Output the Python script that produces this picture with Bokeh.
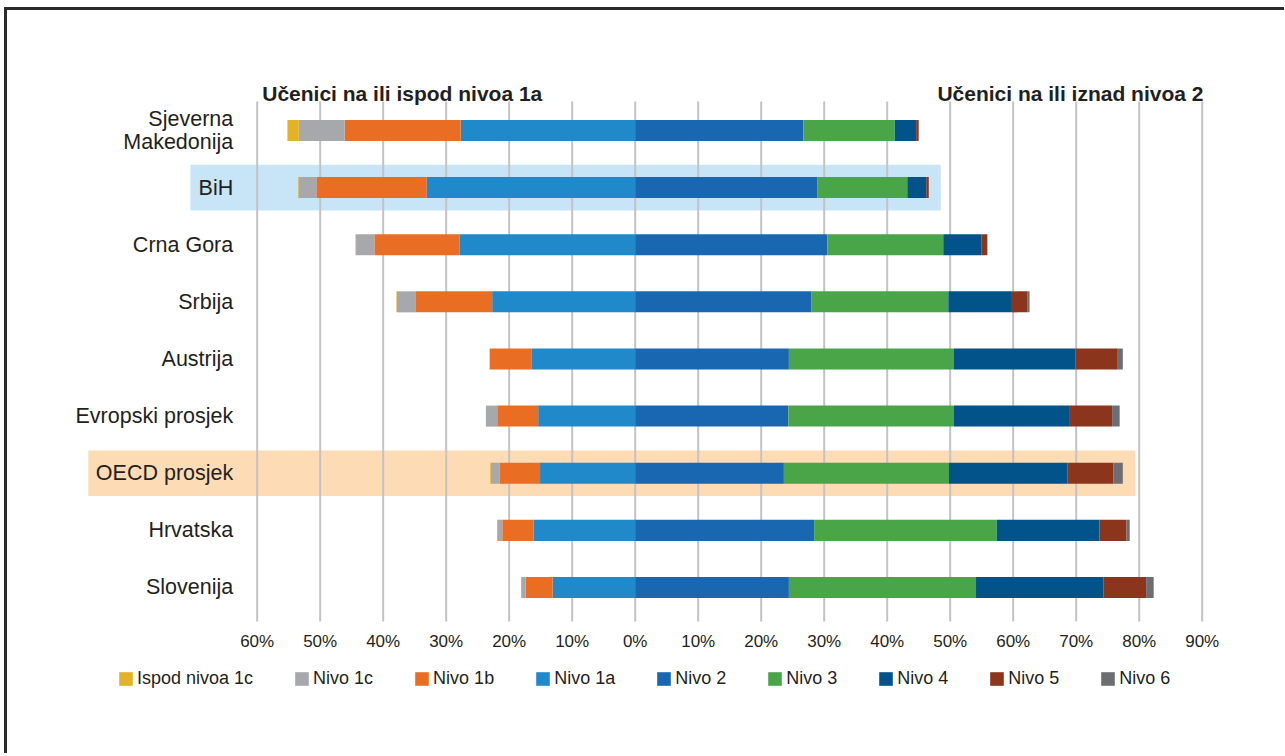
from bokeh.plotting import figure
from bokeh.layouts import column
from bokeh.models import Range1d, FixedTicker, Legend, LegendItem, ColumnDataSource
from bokeh.embed import file_html
from bokeh.resources import INLINE
from bokeh.core.properties import value

# ---------------- data ----------------
categories = ["Sjeverna\nMakedonija", "BiH", "Crna Gora", "Srbija", "Austrija",
              "Evropski prosjek", "OECD prosjek", "Hrvatska", "Slovenija"]
ispod_1c = [1.8, 0.1, 0.1, 0.1, 0.0, 0.0, 0.1, 0.0, 0.0]
nivo_1c = [7.3, 2.8, 2.9, 2.9, 0.0, 1.8, 1.4, 0.8, 0.7]
nivo_1b = [18.4, 17.5, 13.5, 12.2, 6.7, 6.5, 6.4, 5.0, 4.3]
nivo_1a = [27.7, 33.1, 27.9, 22.7, 16.4, 15.4, 15.1, 16.1, 13.1]
nivo_2 = [26.7, 28.9, 30.5, 28.0, 24.4, 24.3, 23.6, 28.4, 24.4]
nivo_3 = [14.5, 14.3, 18.4, 21.7, 26.2, 26.3, 26.2, 29.0, 29.7]
nivo_4 = [3.4, 3.0, 6.1, 10.1, 19.3, 18.4, 18.8, 16.3, 20.2]
nivo_5 = [0.4, 0.4, 0.9, 2.5, 6.7, 6.7, 7.3, 4.3, 6.8]
nivo_6 = [0.0, 0.0, 0.0, 0.3, 0.8, 1.2, 1.5, 0.5, 1.2]

level_names = ["Ispod nivoa 1c", "Nivo 1c", "Nivo 1b", "Nivo 1a", "Nivo 2",
               "Nivo 3", "Nivo 4", "Nivo 5", "Nivo 6"]
level_colors = ["#E2B227", "#A7A8AB", "#E96E24", "#2089CA", "#1967B1",
                "#4AA548", "#02538A", "#8B361C", "#6D6E71"]

tick_values = [-60, -50, -40, -30, -20, -10, 0, 10, 20, 30, 40, 50, 60, 70, 80, 90]
tick_labels = ["60%", "50%", "40%", "30%", "20%", "10%", "0%", "10%", "20%",
               "30%", "40%", "50%", "60%", "70%", "80%", "90%"]

left_title = "Učenici na ili ispod nivoa 1a"
right_title = "Učenici na ili iznad nivoa 2"

highlighted = ["BiH", "OECD prosjek"]
highlight_colors = ["#C7E5F6", "#FDDBB4"]

# ---------------- layout constants ----------------
FONT = "Liberation Sans"
TXT = "#231F20"
n = len(categories)
ypos = [n - 1 - i for i in range(n)]

src = ColumnDataSource(dict(
    y=ypos, cat=categories,
    ispod=[-v for v in ispod_1c], n1c=[-v for v in nivo_1c],
    n1b=[-v for v in nivo_1b], n1a=[-v for v in nivo_1a],
    n2=nivo_2, n3=nivo_3, n4=nivo_4, n5=nivo_5, n6=nivo_6,
))

p = figure(frame_width=1264, frame_height=612,
           x_range=Range1d(-99.63, 101.0), y_range=Range1d(-0.6127, 10.1),
           output_backend="svg", toolbar_location=None, y_axis_location=None,
           min_border_left=0, min_border_right=13, min_border_top=0,
           min_border_bottom=30)
p.outline_line_color = None
p.xgrid.visible = False
p.ygrid.visible = False

# highlight bands
band_extent = {"BiH": (-70.6, 48.5), "OECD prosjek": (-86.8, 79.4)}
for name, col in zip(highlighted, highlight_colors):
    yy = ypos[categories.index(name)]
    l, r = band_extent[name]
    p.quad(left=[l], right=[r], bottom=[yy - 0.40], top=[yy + 0.40],
           fill_color=col, line_color=None)

# vertical gridlines
p.segment(x0=tick_values, y0=[-0.595] * len(tick_values),
          x1=tick_values, y1=[8.508] * len(tick_values),
          line_color="#C3C3C5", line_width=2)

# bars
bar_h = 0.368
left_r = p.hbar_stack(["n1a", "n1b", "n1c", "ispod"], y="y", height=bar_h,
                      fill_color=[level_colors[3], level_colors[2], level_colors[1], level_colors[0]],
                      line_color=None, source=src)
right_r = p.hbar_stack(["n2", "n3", "n4", "n5", "n6"], y="y", height=bar_h,
                       fill_color=level_colors[4:], line_color=None, source=src)

# category labels
p.text(x=-63.8, y="y", text="cat", source=src, text_align="right",
       text_baseline="middle", text_font=value(FONT), text_font_size="21.5px",
       text_color=TXT, text_line_height=0.95)

# side titles
p.text(x=[-59.2], y=[8.648], text=[left_title], text_align="left",
       text_baseline="middle", text_font=value(FONT), text_font_style="bold",
       text_font_size="21px", text_color=TXT)
p.text(x=[90.2], y=[8.648], text=[right_title], text_align="right",
       text_baseline="middle", text_font=value(FONT), text_font_style="bold",
       text_font_size="21px", text_color=TXT)

# x axis
ax = p.xaxis[0]
ax.ticker = FixedTicker(ticks=tick_values)
ax.major_label_overrides = {t: l for t, l in zip(tick_values, tick_labels)}
ax.axis_line_color = None
ax.major_tick_line_color = None
ax.minor_tick_line_color = None
ax.major_label_standoff = 3
ax.major_label_text_font = FONT
ax.major_label_text_font_size = "17px"
ax.major_label_text_color = TXT

# legend strip (separate figure placed under the chart); swatch renderers sit
# outside the visible range so only their legend entries show
lg = figure(width=1277, height=100, x_range=Range1d(0, 1), y_range=Range1d(0, 1),
            output_backend="svg", toolbar_location=None,
            x_axis_location=None, y_axis_location=None, min_border=0)
lg.outline_line_color = None
lg.xgrid.visible = False
lg.ygrid.visible = False
swatches = [lg.rect(x=[-5], y=[-5], width=1, height=1, fill_color=c, line_color=None)
            for c in level_colors]
legend = Legend(items=[LegendItem(label=nm, renderers=[r]) for nm, r in zip(level_names, swatches)],
                orientation="horizontal", location=(110, 64),
                glyph_width=17, glyph_height=17, label_standoff=3, spacing=40,
                label_text_font=FONT, label_text_font_size="18px",
                label_text_color=TXT, border_line_color=None,
                background_fill_alpha=0, margin=0, padding=0)
lg.add_layout(legend, "center")

layout = column(p, lg, spacing=0,
                styles={"margin-left": "4px", "margin-top": "7px",
                        "border-left": "3px solid #2B2B2B",
                        "border-top": "3px solid #2B2B2B"})

open("out.html", "w").write(file_html(layout, INLINE))
